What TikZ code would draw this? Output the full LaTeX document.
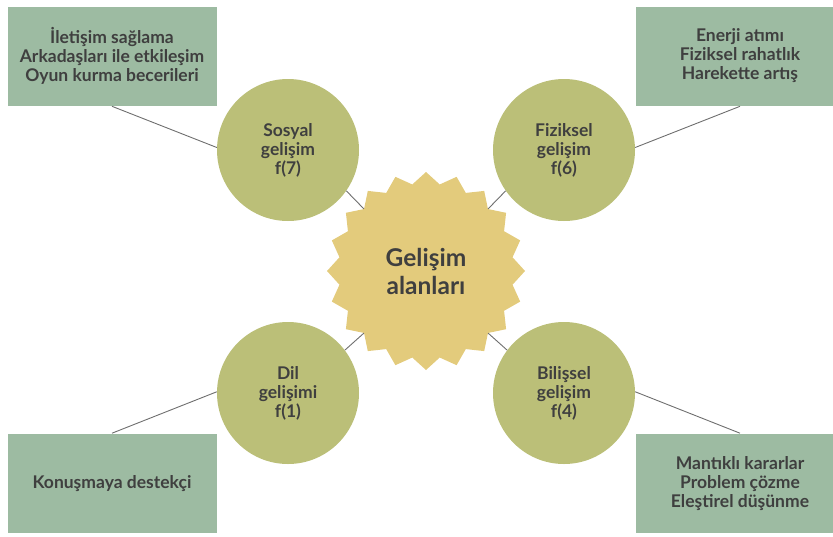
\documentclass[tikz,border=0pt]{standalone}
\usepackage{fontspec}
\setmainfont{Lato}
\usetikzlibrary{shapes.geometric}
\definecolor{boxgreen}{HTML}{9DBBA2}
\definecolor{olive}{HTML}{BBBF78}
\definecolor{sand}{HTML}{E3CB7C}
\definecolor{txt}{HTML}{3F3F3F}
\definecolor{conn}{HTML}{6E6E6E}
\begin{document}
\begin{tikzpicture}[x=1pt,y=-1pt,
  infobox/.style={rectangle, fill=boxgreen, draw=white, line width=0.6pt,
    minimum width=210pt, minimum height=100pt, inner sep=0pt, align=center,
    font=\bfseries\fontsize{17.5}{19}\selectfont, text=txt},
  topic/.style={circle, fill=olive, minimum size=142pt, inner sep=0pt,
    align=center, font=\bfseries\fontsize{17.5}{19}\selectfont, text=txt},
  hub/.style={star, star points=20, star point ratio=1.13, fill=sand,
    minimum size=198pt, inner sep=0pt, align=center,
    font=\bfseries\fontsize{24.5}{28}\selectfont, text=txt},
  link/.style={draw=conn, line width=0.9pt}]
\clip (0,0) rectangle (833,536);
\node[infobox] (b1) at (112,56) {İletişim sağlama\\Arkadaşları ile etkileşim\\Oyun kurma becerileri};
\node[infobox] (b2) at (740,56) {Enerji atımı\\Fiziksel rahatlık\\Harekette artış};
\node[infobox] (b3) at (112,483.5) {Konuşmaya destekçi};
\node[infobox] (b4) at (740,483.5) {Mantıklı kararlar\\Problem çözme\\Eleştirel düşünme};
\node[hub] (hub) at (426,271) {Gelişim\\alanları};
\node[topic] (sos) at (288,150) {Sosyal\\gelişim\\f(7)};
\node[topic] (fiz) at (564,150) {Fiziksel\\gelişim\\f(6)};
\node[topic] (dil) at (288,393) {Dil\\gelişimi\\f(1)};
\node[topic] (bil) at (564,393) {Bilişsel\\gelişim\\f(4)};
\draw[link] (b1.south) -- (sos.178);
\draw[link] (b2.south) -- (fiz.2);
\draw[link] (b3.north) -- (dil.179);
\draw[link] (b4.north) -- (bil.1);
\draw[link] (sos.-35) -- (hub.135);
\draw[link] (fiz.-145) -- (hub.45);
\draw[link] (dil.37) -- (hub.-135);
\draw[link] (bil.143) -- (hub.-45);
\end{tikzpicture}
\end{document}
